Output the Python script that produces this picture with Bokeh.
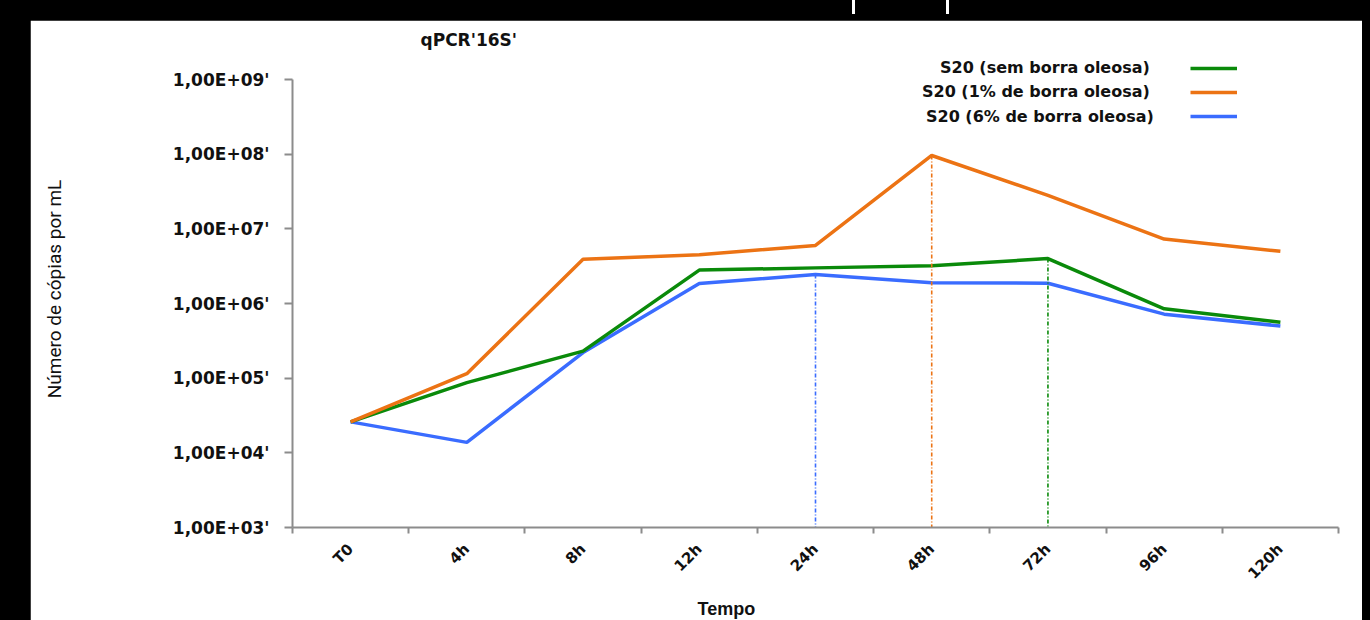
import numpy as np
from bokeh.plotting import figure
from bokeh.models import FixedTicker, Legend, LegendItem, Title, Range1d
from bokeh.embed import file_html
from bokeh.resources import INLINE

# ---- data ----
categories = ["T0", "4h", "8h", "12h", "24h", "48h", "72h", "96h", "120h"]
sem_borra = [2.6e4, 8.7e4, 2.3e5, 2.8e6, 3.0e6, 3.2e6, 4.0e6, 8.5e5, 5.6e5]
borra_1pct = [2.6e4, 1.15e5, 3.9e6, 4.5e6, 6.0e6, 9.6e7, 2.8e7, 7.3e6, 5.0e6]
borra_6pct = [2.6e4, 1.38e4, 2.2e5, 1.85e6, 2.45e6, 1.9e6, 1.87e6, 7.2e5, 5.0e5]
series_names = ["S20 (sem borra oleosa)", "S20 (1% de borra oleosa)", "S20 (6% de borra oleosa)"]
series_colors = ["#0a8a0a", "#ec7314", "#3a6cff"]
y_tick_values = [1e3, 1e4, 1e5, 1e6, 1e7, 1e8, 1e9]
y_tick_labels = ["1,00E+03'", "1,00E+04'", "1,00E+05'", "1,00E+06'",
                 "1,00E+07'", "1,00E+08'", "1,00E+09'"]

# ---- layout constants ----
DECADE_PX = 448 / 6          # pixels per decade on the y axis
HEADROOM_PX = 29             # frame space above the 1e9 tick (holds the legend)
y_top = 10 ** (np.log10(y_tick_values[-1]) + HEADROOM_PX / DECADE_PX)

x = np.arange(len(categories)) + 0.5

p = figure(frame_width=1046, frame_height=448 + HEADROOM_PX, y_axis_type="log",
           x_range=Range1d(0, len(categories)), y_range=Range1d(y_tick_values[0], y_top),
           output_backend="svg", toolbar_location=None,
           min_border_left=262, min_border_right=24, min_border_top=30, min_border_bottom=91,
           background_fill_color="white", border_fill_color="white")
p.outline_line_color = "white"
p.outline_line_alpha = 1.0
p.outline_line_width = 2
p.xgrid.visible = False
p.ygrid.visible = False

# title
p.title.text = "qPCR'16S'"
p.title.align = "left"
p.title.offset = 128
p.title.standoff = 2
p.title.text_font = "DejaVu Sans"
p.title.text_font_size = "17px"
p.title.text_font_style = "bold"
p.title.text_color = "#111111"

# lines
series = [sem_borra, borra_1pct, borra_6pct]
renderers = [None, None, None]
for idx in [2, 0, 1]:
    vals = series[idx]
    renderers[idx] = p.line(x, vals, line_color=series_colors[idx], line_width=3.5)
    k = int(np.argmax(vals))
    p.segment(x0=[x[k]], y0=[vals[k]], x1=[x[k]], y1=[y_tick_values[0]],
              line_color=series_colors[idx], line_width=1.6, line_dash="4 2 1 2")

# y axis
yax = p.yaxis[0]
yax.ticker = FixedTicker(ticks=y_tick_values)
yax.bounds = (y_tick_values[0], y_tick_values[-1])
yax.major_label_overrides = {int(v): lab for v, lab in zip(y_tick_values, y_tick_labels)}
yax.major_label_text_font = "DejaVu Sans"
yax.major_label_text_font_size = "17px"
yax.major_label_text_font_style = "bold"
yax.major_label_text_color = "#111111"
yax.major_label_standoff = 15
yax.major_tick_out = 8
yax.major_tick_in = 0
yax.minor_tick_line_color = None
yax.axis_line_color = "#8c8c8c"
yax.axis_line_width = 2
yax.major_tick_line_color = "#8c8c8c"
yax.major_tick_line_width = 2
yax.axis_label = "Número de cópias por mL"
yax.axis_label_text_font = "Roboto"
yax.axis_label_text_font_size = "19px"
yax.axis_label_text_font_style = "normal"
yax.axis_label_text_color = "#111111"
yax.axis_label_standoff = 104

# x axis
xax = p.xaxis[0]
xax.ticker = FixedTicker(ticks=list(x), minor_ticks=list(range(len(categories) + 1)))
xax.bounds = (0, len(categories))
xax.major_label_overrides = {float(v): c for v, c in zip(x, categories)}
xax.major_label_orientation = np.pi / 4
xax.major_label_text_font = "DejaVu Sans"
xax.major_label_text_font_size = "15px"
xax.major_label_text_font_style = "bold"
xax.major_label_text_color = "#111111"
xax.major_label_standoff = 13
xax.major_tick_out = 0
xax.major_tick_in = 0
xax.minor_tick_out = 6
xax.minor_tick_in = 0
xax.minor_tick_line_color = "#8c8c8c"
xax.minor_tick_line_width = 2
xax.axis_line_color = "#8c8c8c"
xax.axis_line_width = 2

p.add_layout(Title(text="Tempo", align="left", offset=405, text_font="Liberation Sans",
                   text_font_size="18px", text_font_style="bold", text_color="#111111"), "below")

# legend: texts (no glyph) followed by the coloured line samples on their right
common = dict(orientation="vertical", glyph_height=20, label_height=20, spacing=4,
              padding=0, margin=0, border_line_color=None, background_fill_color=None,
              label_text_font="DejaVu Sans", label_text_font_size="16px",
              label_text_font_style="bold", label_text_color="#111111")
text_left = [648, 630, 634]            # left edge of each legend text (frame px)
text_bottom = [450, 426, 401]          # bottom of each legend row (frame px)
for i in range(3):
    p.add_layout(Legend(items=[LegendItem(label=series_names[i], renderers=[renderers[i]])],
                        location=(text_left[i], text_bottom[i]), glyph_width=0,
                        label_standoff=0, **common), "center")
legend_lines = Legend(items=[LegendItem(label=" ", renderers=[renderers[i]]) for i in range(3)],
                      location=(898, 401), glyph_width=47, label_standoff=0, **common)
legend_lines.label_text_alpha = 0
p.add_layout(legend_lines, "center")

html = file_html(p, INLINE)
i = html.rfind("<body")
j = html.find(">", i)
marks = ('<div style="position:absolute;left:852px;top:0;width:3px;height:14px;background:#fff"></div>'
         '<div style="position:absolute;left:946px;top:0;width:3px;height:14px;background:#fff"></div>')
html = (html[:i] + '<body style="margin:0;padding:20px 0 0 30px;background:#000;overflow:hidden">'
        + marks + html[j + 1:])
open("out.html", "w").write(html)
